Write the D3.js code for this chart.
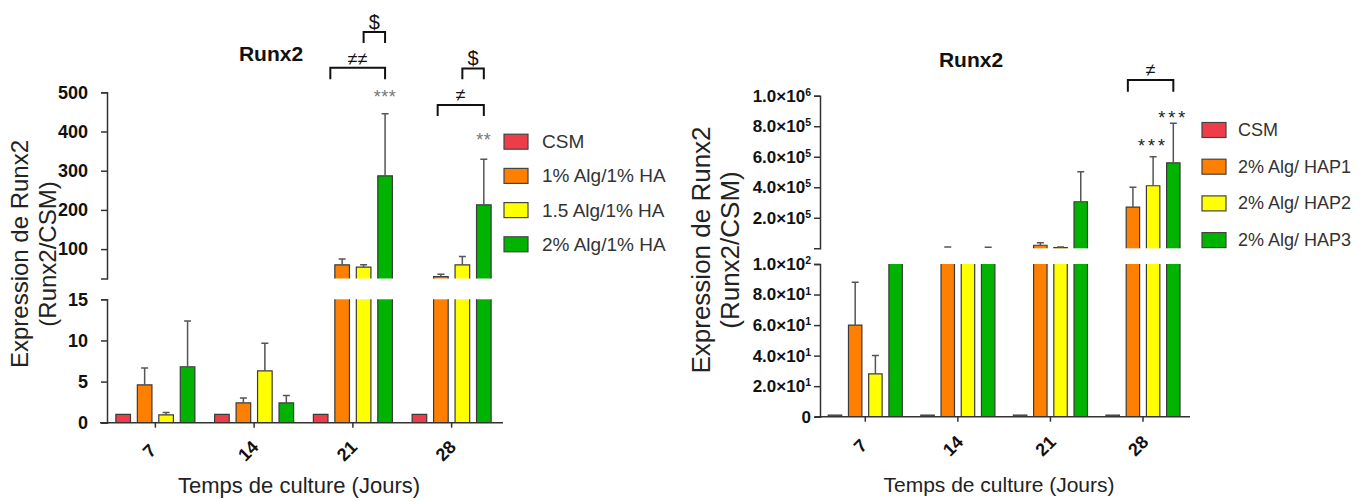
<!DOCTYPE html>
<html><head><meta charset="utf-8">
<script src="https://cdn.jsdelivr.net/npm/d3@7"></script>
<style>
body{margin:0;background:#fff}
svg{display:block}
text{font-family:"Liberation Sans",Arial,Helvetica,sans-serif}
</style>
</head><body>
<svg id="c" width="1368" height="501"></svg>
<script>
// ---------- LEFT CHART DATA ----------
const daysL = ["7", "14", "21", "28"];
const seriesL = ["CSM", "1% Alg/1% HA", "1.5 Alg/1% HA", "2% Alg/1% HA"];
const csmL = [1, 1, 1, 1];
const csmErrL = [0, 0, 0, 0];
const alg1L = [4.6, 2.4, 60, 30];
const alg1ErrL = [2.05, 0.6, 14.5, 6];
const alg15L = [0.95, 6.3, 54, 60];
const alg15ErrL = [0.3, 3.35, 6, 21];
const alg2L = [6.8, 2.4, 287, 213];
const alg2ErrL = [5.55, 0.9, 158, 116];
const ticksLowL = [0, 5, 10, 15];
const ticksHighL = [100, 200, 300, 400, 500];
const annL = [
  {day: "21", type: "stars", text: "***", series: 3, v: 506},
  {day: "21", type: "bracket", text: "≠≠", from: 0.45, to: 3, v: 562.7, drop: 533, lv: 585.6},
  {day: "21", type: "bracket", text: "$", from: 2, to: 3, v: 654, drop: 626, lv: 679},
  {day: "28", type: "stars", text: "**", series: 3, v: 397},
  {day: "28", type: "bracket", text: "≠", from: 0.85, to: 3, v: 467.6, drop: 439.6, lv: 493},
  {day: "28", type: "bracket", text: "$", from: 2, to: 3, v: 561, drop: 533, lv: 586.6}
];

// ---------- RIGHT CHART DATA ----------
const daysR = ["7", "14", "21", "28"];
const seriesR = ["CSM", "2% Alg/ HAP1", "2% Alg/ HAP2", "2% Alg/ HAP3"];
const csmR = [1, 1, 1, 1];
const csmErrR = [0, 0, 0, 0];
const hap1R = [60, 3000, 20000, 270000];
const hap1ErrR = [28, 5000, 16000, 130000];
const hap2R = [28, 2000, 5000, 410000];
const hap2ErrR = [12, 0, 4000, 190000];
const hap3R = [500, 2000, 305000, 560000];
const hap3ErrR = [0, 5000, 197000, 260000];
const ticksLowR = [0, 20, 40, 60, 80, 100];
const ticksHighR = [200000, 400000, 600000, 800000, 1000000];
const annR = [
  {day: "28", type: "bracket", text: "≠", from: 0.75, to: 3, v: 1.103e6, drop: 1.026e6, lv: 1.169e6},
  {day: "28", type: "stars", text: "***", series: 2, v: 7.2e5},
  {day: "28", type: "stars", text: "***", series: 3, v: 9.06e5}
];

const colors = ["#ee3d48", "#ff8000", "#ffff00", "#00b300"];
const svg = d3.select("#c");

function sciFormat(sel) {
  sel.each(function(d) {
    const t = d3.select(this);
    t.text(null);
    if (d === 0) { t.text("0"); return; }
    const e = Math.floor(Math.log10(d) + 1e-9);
    const m = d / Math.pow(10, e);
    t.append("tspan").text(m.toFixed(1) + "×10");
    t.append("tspan").attr("dy", "-0.55em").attr("font-size", "0.62em").text(e);
  });
}

function drawChart(cfg) {
  const g = svg.append("g");
  const x0 = d3.scaleBand().domain(cfg.days).range(cfg.xRange).paddingInner(0.2).paddingOuter(0.1);
  const x1 = d3.scaleBand().domain(cfg.series).range([0, x0.bandwidth()]).paddingInner(cfg.barPad);
  const yLo = d3.scaleLinear().domain(cfg.loDomain).range(cfg.loRange);
  const yHi = d3.scaleLinear().domain(cfg.hiDomain).range(cfg.hiRange);
  const loMax = cfg.loDomain[1], hiMin = cfg.hiDomain[0];
  const bw = x1.bandwidth();
  const rows = [];
  cfg.series.forEach((s, si) => cfg.days.forEach((d, di) =>
    rows.push({s, si, d, v: cfg.values[si][di], e: cfg.errs[si][di]})));
  const bx = r => x0(r.d) + x1(r.s);

  // lower segment bars
  g.selectAll("rect.lo").data(rows).join("rect").attr("class", "lo")
    .attr("x", bx).attr("width", bw)
    .attr("y", r => yLo(Math.min(r.v, loMax)))
    .attr("height", r => yLo(0) - yLo(Math.min(r.v, loMax)))
    .attr("fill", r => colors[r.si]);
  g.selectAll("path.lo").data(rows).join("path").attr("class", "lo")
    .attr("d", r => {
      const x = bx(r), yt = yLo(Math.min(r.v, loMax)), yb = yLo(0);
      return r.v > loMax
        ? `M${x},${yb}V${yt}M${x + bw},${yt}V${yb}`
        : `M${x},${yb}V${yt}H${x + bw}V${yb}`;
    })
    .attr("fill", "none").attr("stroke", "#3a3a3a").attr("stroke-width", 1.2);

  // upper segment bars (only those tall enough to be visible above the break)
  const up = rows.filter(r => r.v > loMax && (yHi(hiMin) - yHi(r.v)) > 0.6);
  g.selectAll("rect.hi").data(up).join("rect").attr("class", "hi")
    .attr("x", bx).attr("width", bw)
    .attr("y", r => yHi(Math.max(r.v, hiMin)))
    .attr("height", r => yHi(hiMin) - yHi(Math.max(r.v, hiMin)))
    .attr("fill", r => colors[r.si]);
  g.selectAll("path.hi").data(up).join("path").attr("class", "hi")
    .attr("d", r => {
      const x = bx(r), yt = yHi(Math.max(r.v, hiMin)), yb = yHi(hiMin);
      return `M${x},${yb}V${yt}H${x + bw}V${yb}`;
    })
    .attr("fill", "none").attr("stroke", "#3a3a3a").attr("stroke-width", 1.2);

  // error bars
  const eb = rows.filter(r => r.e > 0);
  const ey = r => r.v > loMax ? [yHi(r.v), yHi(r.v + r.e)] : [yLo(r.v), yLo(Math.min(r.v + r.e, loMax))];
  g.selectAll("path.err").data(eb).join("path").attr("class", "err")
    .attr("d", r => {
      const cx = bx(r) + bw / 2, [a, b] = ey(r);
      return `M${cx},${a}V${b}M${cx - 3.5},${b}H${cx + 3.5}`;
    })
    .attr("fill", "none").attr("stroke", "#555").attr("stroke-width", 1.5);

  // y axes (broken)
  const axLo = g.append("g").attr("transform", `translate(${cfg.yAxisX},0)`)
    .call(d3.axisLeft(yLo).tickValues(cfg.ticksLo).tickSize(6).tickSizeOuter(6).tickPadding(cfg.tickPad));
  const axHi = g.append("g").attr("transform", `translate(${cfg.yAxisX},0)`)
    .call(d3.axisLeft(yHi).tickValues(cfg.ticksHi).tickSize(6).tickSizeOuter(6).tickPadding(cfg.tickPad));
  [axLo, axHi].forEach(a => {
    a.selectAll("path,line").attr("stroke", "#333").attr("stroke-width", 1.5);
    a.selectAll("text").attr("font-size", cfg.yTickFont).attr("font-weight", "bold").attr("fill", "#111")
      .attr("font-family", '"Liberation Sans",Arial,sans-serif');
    if (cfg.sci) sciFormat(a.selectAll(".tick text"));
  });

  // x axis
  g.append("line").attr("x1", cfg.xLine[0]).attr("x2", cfg.xLine[1])
    .attr("y1", yLo(0)).attr("y2", yLo(0)).attr("stroke", "#333").attr("stroke-width", 1.5);
  const ax = g.append("g").attr("transform", `translate(0,${yLo(0)})`)
    .call(d3.axisBottom(x0).tickSize(5).tickSizeOuter(0));
  ax.select(".domain").remove();
  ax.selectAll("line").attr("stroke", "#333").attr("stroke-width", 1.5);
  ax.selectAll("text").attr("x", 0).attr("y", 0).attr("dy", "0.35em")
    .attr("text-anchor", "middle").attr("font-size", 18).attr("font-weight", "bold").attr("fill", "#111")
    .attr("font-family", '"Liberation Sans",Arial,sans-serif')
    .attr("transform", `translate(${cfg.xLabOff[0]},${cfg.xLabOff[1]}) rotate(-45)`);

  // titles
  g.append("text").attr("x", cfg.title[0]).attr("y", cfg.title[1]).attr("text-anchor", "middle")
    .attr("font-size", 21).attr("font-weight", "bold").attr("fill", "#111").text("Runx2");
  g.append("text").attr("x", cfg.xTitle[0]).attr("y", cfg.xTitle[1]).attr("text-anchor", "middle")
    .attr("font-size", cfg.xTitleFont).attr("fill", "#222").text("Temps de culture (Jours)");
  [["Expression de Runx2", cfg.yTitleX[0]], ["(Runx2/CSM)", cfg.yTitleX[1]]].forEach(([t, x]) =>
    g.append("text").attr("transform", `translate(${x},${cfg.yTitleY}) rotate(-90)`)
      .attr("text-anchor", "middle").attr("dominant-baseline", "central")
      .attr("font-size", cfg.yTitleFont).attr("fill", "#222").text(t));

  // legend
  const lg = g.append("g");
  cfg.series.forEach((s, i) => {
    const y = cfg.legend.y0 + i * cfg.legend.dy;
    lg.append("rect").attr("x", cfg.legend.x).attr("y", y - 7.5).attr("width", 24).attr("height", 15)
      .attr("fill", colors[i]).attr("stroke", "#444").attr("stroke-width", 1.2);
    lg.append("text").attr("x", cfg.legend.tx).attr("y", y).attr("dominant-baseline", "central")
      .attr("font-size", cfg.legend.font).attr("fill", "#333").text(s);
  });

  // annotations
  const px = (day, idx) => x0(day) + idx * x1.step() + bw / 2;
  cfg.ann.forEach(a => {
    if (a.type === "stars") {
      g.append("text").attr("x", px(a.day, a.series)).attr("y", yHi(a.v)).attr("dy", cfg.starDy)
        .attr("text-anchor", "middle").attr("font-size", cfg.starFont)
        .attr("letter-spacing", cfg.starSpacing).attr("fill", cfg.starColor).text(a.text);
    } else {
      const xa = px(a.day, a.from), xb = px(a.day, a.to);
      g.append("path").attr("d", `M${xa},${yHi(a.drop)}V${yHi(a.v)}H${xb}V${yHi(a.drop)}`)
        .attr("fill", "none").attr("stroke", "#111").attr("stroke-width", 2);
      g.append("text").attr("x", (xa + xb) / 2).attr("y", yHi(a.lv)).attr("dy", "0.35em")
        .attr("text-anchor", "middle").attr("font-size", a.text === "$" ? 20 : 18)
        .attr("fill", "#111").text(a.text);
    }
  });
}

drawChart({
  days: daysL, series: seriesL,
  values: [csmL, alg1L, alg15L, alg2L], errs: [csmErrL, alg1ErrL, alg15ErrL, alg2ErrL],
  xRange: [106, 501], barPad: 0.32, xLine: [100, 503],
  loDomain: [0, 15], loRange: [422.7, 299.3],
  hiDomain: [25, 500], hiRange: [278.5, 92.3],
  ticksLo: ticksLowL, ticksHi: ticksHighL, yAxisX: 107, tickPad: 13, yTickFont: 18, sci: false,
  xLabOff: [-6, 28],
  title: [271, 61], xTitle: [299, 493], xTitleFont: 22,
  yTitleX: [19, 47], yTitleY: 254, yTitleFont: 24,
  legend: {x: 504, tx: 542, y0: 141.7, dy: 34.2, font: 19},
  ann: annL, starFont: 18, starSpacing: 0.5, starColor: "#777", starDy: "0.75em"
});

drawChart({
  days: daysR, series: seriesR,
  values: [csmR, hap1R, hap2R, hap3R], errs: [csmErrR, hap1ErrR, hap2ErrR, hap3ErrR],
  xRange: [819, 1189.3], barPad: 0.335, xLine: [815, 1190],
  loDomain: [0, 100], loRange: [416.7, 264],
  hiDomain: [0, 1000000], hiRange: [248.3, 95.7],
  ticksLo: ticksLowR, ticksHi: ticksHighR, yAxisX: 820, tickPad: 3, yTickFont: 17, sci: true,
  xLabOff: [-5, 29],
  title: [971, 67], xTitle: [999, 492], xTitleFont: 21,
  yTitleX: [701, 730], yTitleY: 250, yTitleFont: 26,
  legend: {x: 1202, tx: 1238, y0: 130, dy: 36.7, font: 18},
  ann: annR, starFont: 18, starSpacing: 3, starColor: "#222", starDy: "0.75em"
});
</script>
</body></html>
